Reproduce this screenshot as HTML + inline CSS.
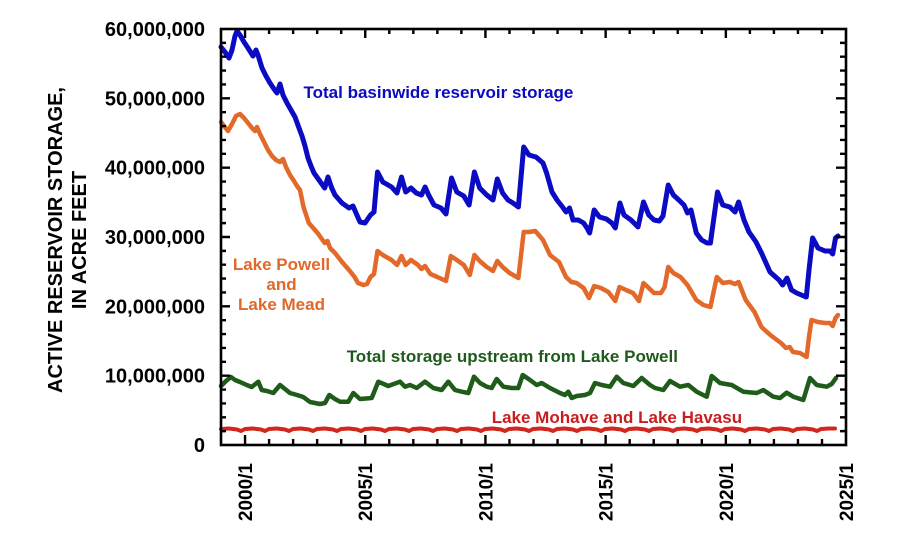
<!DOCTYPE html>
<html>
<head>
<meta charset="utf-8">
<style>
html,body{margin:0;padding:0;background:#fff;}
svg{display:block;}
text{font-family:"Liberation Sans",Arial,sans-serif;font-weight:bold;}
</style>
</head>
<body>
<svg width="900" height="535" viewBox="0 0 900 535" xmlns="http://www.w3.org/2000/svg">
<rect width="900" height="535" fill="#fff"/>

<!-- Y axis title -->
<text transform="translate(62,240) rotate(-90)" text-anchor="middle" font-size="20" fill="#000">ACTIVE RESERVOIR STORAGE,</text>
<text transform="translate(86,240) rotate(-90)" text-anchor="middle" font-size="20" fill="#000">IN ACRE FEET</text>

<!-- Y tick labels -->
<g font-size="20" fill="#000" text-anchor="end">
<text x="205" y="36">60,000,000</text>
<text x="205" y="105.3">50,000,000</text>
<text x="205" y="174.7">40,000,000</text>
<text x="205" y="244">30,000,000</text>
<text x="205" y="313.3">20,000,000</text>
<text x="205" y="382.7">10,000,000</text>
<text x="205" y="452">0</text>
</g>

<!-- X tick labels -->
<g font-size="19" fill="#000" text-anchor="end">
<text transform="translate(252,463) rotate(-90)">2000/1</text>
<text transform="translate(372.2,463) rotate(-90)">2005/1</text>
<text transform="translate(492.4,463) rotate(-90)">2010/1</text>
<text transform="translate(612.6,463) rotate(-90)">2015/1</text>
<text transform="translate(732.8,463) rotate(-90)">2020/1</text>
<text transform="translate(853,463) rotate(-90)">2025/1</text>
</g>

<!-- Series -->
<g fill="none" stroke-linejoin="round" stroke-linecap="round">
<polyline stroke="#d0281f" stroke-width="4" points="221,429 229,428.5 237,429.5 241,431 245,429 253,428.5 261,429.5 265,431 269,429 277,428.5 285,429.5 289,431 293,429 301,428.5 309,429.5 313,431 317,429 325,428.5 333,429.5 337,431 341,429 349,428.5 357,429.5 361,431 365,429 373,428.5 381,429.5 385,431 389,429 397,428.5 405,429.5 409,431 413,429 421,428.5 429,429.5 433,431 437,429 445,428.5 453,429.5 457,431 461,429 469,428.5 477,429.5 481,431 485,429 493,428.5 501,429.5 505,431 509,429 517,428.5 525,429.5 529,431 533,429 541,428.5 549,429.5 553,431 557,429 565,428.5 573,429.5 577,431 581,429 589,428.5 597,429.5 601,431 605,429 613,428.5 621,429.5 625,431 629,429 637,428.5 645,429.5 649,431 653,429 661,428.5 669,429.5 673,431 677,429 685,428.5 693,429.5 697,431 701,429 709,428.5 717,429.5 721,431 725,429 733,428.5 741,429.5 745,431 749,429 757,428.5 765,429.5 769,431 773,429 781,428.5 789,429.5 793,431 797,429 805,428.5 813,429.5 817,431 821,429 829,428.5 835,428.5"/>

<polyline stroke="#1f5c1a" stroke-width="4.5" points="221,386 226,381 231,377 235,380 240,382 246.7,385 251.7,387 258.3,381.7 261.7,390 267,391 273.3,393 280,385 285,389 290,393 297,395 303.3,397 310,402 320,404 325,403 329.3,395 335,399 340,401.7 348.3,401.7 353.3,393 360,399 371.7,398 378.3,381.7 388.3,386 400,381.7 405,386.7 410,385 416.7,388 425,381.7 433.3,388 441.7,390 448.3,381.7 455,390 461.7,391.7 468.3,393 474,376.7 480,383 486.7,386.7 491.7,388 496.7,379 503.3,386.7 511.7,388 518.3,388 522.7,375 530,380 536.7,385 541.7,383 550,388 560,393 565,395 568.3,391.7 571.7,398 576.7,396 585,395 590,393 595,383 601.7,385 610,386.7 616.7,376.7 623.3,383 633.3,386 641.7,378 650,385 655,388 663.3,390 670,381 680,386.7 688.3,385 696.7,391.7 706.7,396.7 711.7,376 720,383 731.7,385 743.3,391.7 756.7,393 763.3,390 773.3,396.7 780,398 786.7,392.7 793.3,396.7 803.3,400 810,378 816.7,385 826.7,386.7 831.7,384 836,378"/>

<polyline stroke="#e2692a" stroke-width="4.5" points="221,122 224,126 228,131 232,124 236,116 240,114 244,118 248,123 252,128 255,131 257,127 260,134 264,142 268,150 272,156 276,160 280,162 283,159 286,167 290,175 294,181 297,186 300,190 303.5,207 308.8,223 317.6,233 324.7,243 327.5,241 330,248 335,253 342,262 349,270 354.6,277 358,283 363.4,285 367,284 370.5,277 374,274 377.5,251 382.8,255 391.6,260 397,265 401.5,256 405.7,265 411,260 418,265 421.5,269 425,266 430.4,274 437.4,277 446,281 450.8,256 456.8,260 463.8,265 469.8,275 474.4,255 479.7,261 486.7,267 493,271 497.3,261 502.6,267 509.6,273 518.4,278 523.7,232 529,232 535.3,231 543,240 550,255 559,262 566,277 571.3,282 576.6,283 583.6,288 589,298 594.2,286 601,288 608.3,292 615.3,301 619.5,287 626,290 633,293 639,301 643.5,283 648.8,288 654,293 661,293 664.6,287 668.2,267 673.4,273 680.5,277 687.5,285 696.3,300 703.4,305 710.4,307 716.8,277 722.8,283 729.8,282 735,284 738.6,282 745.7,300 754.5,312 761.5,327 770.3,335 781,343 786,348 789.7,347 793,352 800,353 806.6,357 809,337 811.5,320 818,322 825,323 830,323 832.7,326 835.5,318 838,315"/>

<polyline stroke="#0b0bc4" stroke-width="5" points="221,47 225,52 229,58 232,50 235,36 237,31 240,35 244,42 248,48 253,56 256,50 258,55 262,68 266,76 270,83 274,89 277,93 280,84 283,95 287,103 291,110 295,117 299,128 302,136 305,146 308,158 311,166 314,173 319,180 324.7,188 328,177 331.7,188 335,195 342,203 349,208 353,206 356,213 360,222 365,223 370.5,215 374,212 377.5,172 382.8,182 391.6,187 397,193 401.5,177 405.7,192 411,188 416.3,193 421.5,195 425.1,187 428.6,195 434,205 441,208 446,214 451.5,178 456.8,192 463.8,196 469.1,205 474.4,172 479.7,188 486.7,195 493,200 497.3,179 502.6,193 508,200 513,203 518.4,207 523.7,147 529,155 536,157 543,163 546.6,173 552,192 557,200 562.5,207 566,212 569.5,208 573,220 578.3,220 583.6,223 587,228 589.6,233 594.2,210 599.5,217 606.5,219 611.8,223 615.3,228 619.9,203 624,215 631,220 638,227 643.5,202 648.8,215 654,220 659.3,221 663,216 668.2,185 673.4,195 678.8,200 684,205 687.5,213 691,210 696.3,233 701.6,240 707,243 710.4,243 717.5,192 722.8,205 729.8,207 735,212 738.6,202 744,220 749,232 756,242 761.5,253 770,272 779,280 782.6,285 787,278 791.5,290 796.7,293 803.8,296 806.3,297 809,270 812.6,238 818,248 825,251 830,251 832.7,254 835.5,238 838,236"/>
</g>

<!-- Annotations -->
<g font-size="17">
<text x="303.5" y="98" fill="#0a0ac0">Total basinwide reservoir storage</text>
<text x="281.5" y="270" fill="#e0692a" text-anchor="middle">Lake Powell</text>
<text x="281.5" y="290" fill="#e0692a" text-anchor="middle">and</text>
<text x="281.5" y="310" fill="#e0692a" text-anchor="middle">Lake Mead</text>
<text x="346.7" y="362" fill="#1e5a1a">Total storage upstream from Lake Powell</text>
<text x="491.7" y="423" fill="#c81e1e">Lake Mohave and Lake Havasu</text>
</g>

<!-- Frame -->
<rect x="221" y="29" width="625" height="416" fill="none" stroke="#000" stroke-width="2.6"/>

<!-- Ticks -->
<path stroke="#000" stroke-width="2.4" fill="none" d="
M221 431.13h5 M221 417.27h5 M221 403.4h5 M221 389.53h5 M221 375.67h9
M221 361.8h5 M221 347.93h5 M221 334.07h5 M221 320.2h5 M221 306.33h9
M221 292.47h5 M221 278.6h5 M221 264.73h5 M221 250.87h5 M221 237h9
M221 223.13h5 M221 209.27h5 M221 195.4h5 M221 181.53h5 M221 167.67h9
M221 153.8h5 M221 139.93h5 M221 126.07h5 M221 112.2h5 M221 98.33h9
M221 84.47h5 M221 70.6h5 M221 56.73h5 M221 42.87h5
M846 431.13h-6 M846 417.27h-6 M846 403.4h-6 M846 389.53h-6 M846 375.67h-10
M846 361.8h-6 M846 347.93h-6 M846 334.07h-6 M846 320.2h-6 M846 306.33h-10
M846 292.47h-6 M846 278.6h-6 M846 264.73h-6 M846 250.87h-6 M846 237h-10
M846 223.13h-6 M846 209.27h-6 M846 195.4h-6 M846 181.53h-6 M846 167.67h-10
M846 153.8h-6 M846 139.93h-6 M846 126.07h-6 M846 112.2h-6 M846 98.33h-10
M846 84.47h-6 M846 70.6h-6 M846 56.73h-6 M846 42.87h-6
M245.04 445v-10 M269.08 445v-6 M293.12 445v-6 M317.16 445v-6 M341.2 445v-6
M365.24 445v-10 M389.28 445v-6 M413.32 445v-6 M437.36 445v-6 M461.4 445v-6
M485.44 445v-10 M509.48 445v-6 M533.52 445v-6 M557.56 445v-6 M581.6 445v-6
M605.64 445v-10 M629.68 445v-6 M653.72 445v-6 M677.76 445v-6 M701.8 445v-6
M725.84 445v-10 M749.88 445v-6 M773.92 445v-6 M797.96 445v-6 M822 445v-6
M245.04 29v9 M269.08 29v5 M293.12 29v5 M317.16 29v5 M341.2 29v5
M365.24 29v9 M389.28 29v5 M413.32 29v5 M437.36 29v5 M461.4 29v5
M485.44 29v9 M509.48 29v5 M533.52 29v5 M557.56 29v5 M581.6 29v5
M605.64 29v9 M629.68 29v5 M653.72 29v5 M677.76 29v5 M701.8 29v5
M725.84 29v9 M749.88 29v5 M773.92 29v5 M797.96 29v5 M822 29v5
"/>
</svg>
</body>
</html>
